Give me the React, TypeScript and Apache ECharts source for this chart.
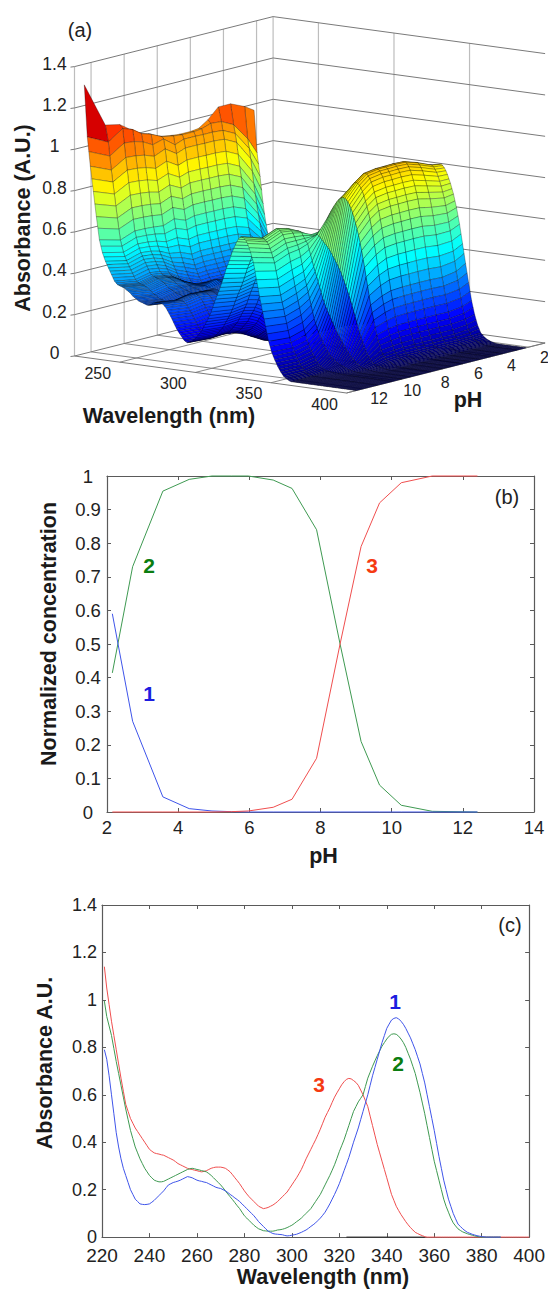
import React, { useEffect, useRef } from "react";
import * as echarts from "echarts";

// ---------- data ----------
const phKnots = [2.15, 2.72, 3.57, 4.31, 4.95, 5.5, 5.97, 6.67, 7.2, 7.89, 8.55, 9.14, 9.66, 10.27, 11.14, 12.41];
const conc1 = [0.59, 0.27, 0.045, 0.01, 0.003, 0.001, 0, 0, 0, 0, 0, 0, 0, 0, 0, 0];
const conc2 = [0.414, 0.73, 0.955, 0.99, 1, 1, 1, 0.988, 0.963, 0.84, 0.5, 0.21, 0.08, 0.02, 0.002, 0];
const conc3 = [0, 0, 0, 0, 0, 0.001, 0.003, 0.014, 0.038, 0.16, 0.5, 0.79, 0.92, 0.98, 1, 1];

const wavelengths = Array.from({ length: 180 }, (_, i) => 221 + i);
const spectrum1 = [
  0.79, 0.75, 0.68, 0.6, 0.52, 0.44, 0.38, 0.33, 0.29, 0.26,
  0.23, 0.2, 0.18, 0.16, 0.15, 0.14, 0.138, 0.137, 0.138, 0.14,
  0.147, 0.155, 0.165, 0.175, 0.185, 0.195, 0.208, 0.22, 0.225, 0.23,
  0.233, 0.236, 0.24, 0.245, 0.25, 0.255, 0.253, 0.25, 0.245, 0.24,
  0.237, 0.235, 0.232, 0.23, 0.225, 0.22, 0.215, 0.21, 0.207, 0.205,
  0.2, 0.195, 0.188, 0.18, 0.173, 0.165, 0.158, 0.15, 0.14, 0.13,
  0.12, 0.11, 0.1, 0.09, 0.078, 0.065, 0.055, 0.045, 0.035, 0.025,
  0.02, 0.015, 0.013, 0.012, 0.011, 0.01, 0.007, 0.005, 0.006, 0.008,
  0.01, 0.012, 0.016, 0.02, 0.025, 0.03, 0.037, 0.045, 0.052, 0.06,
  0.07, 0.08, 0.092, 0.105, 0.122, 0.14, 0.16, 0.18, 0.202, 0.225,
  0.252, 0.28, 0.307, 0.335, 0.367, 0.4, 0.43, 0.46, 0.495, 0.53,
  0.565, 0.6, 0.64, 0.68, 0.715, 0.75, 0.785, 0.82, 0.85, 0.88,
  0.898, 0.915, 0.922, 0.925, 0.92, 0.91, 0.897, 0.88, 0.86, 0.84,
  0.815, 0.79, 0.76, 0.73, 0.69, 0.65, 0.6, 0.55, 0.5, 0.45,
  0.395, 0.34, 0.29, 0.24, 0.2, 0.16, 0.13, 0.1, 0.077, 0.055,
  0.045, 0.035, 0.027, 0.02, 0.016, 0.012, 0.009, 0.006, 0.004, 0.002,
  0.001, 0, 0, 0, 0, 0, 0, 0, 0, 0,
  0, 0, 0, 0, 0, 0, 0, 0, 0, 0,
];
const spectrum2 = [
  0.995, 0.93, 0.89, 0.85, 0.795, 0.74, 0.69, 0.64, 0.59, 0.54,
  0.495, 0.45, 0.415, 0.38, 0.355, 0.33, 0.31, 0.29, 0.275, 0.26,
  0.25, 0.24, 0.236, 0.233, 0.233, 0.235, 0.24, 0.245, 0.25, 0.255,
  0.26, 0.265, 0.27, 0.275, 0.28, 0.285, 0.288, 0.29, 0.288, 0.285,
  0.283, 0.28, 0.278, 0.275, 0.268, 0.26, 0.25, 0.24, 0.23, 0.22,
  0.208, 0.195, 0.182, 0.17, 0.158, 0.145, 0.132, 0.12, 0.105, 0.09,
  0.08, 0.07, 0.06, 0.05, 0.042, 0.035, 0.031, 0.027, 0.026, 0.025,
  0.025, 0.025, 0.027, 0.03, 0.031, 0.033, 0.036, 0.04, 0.045, 0.05,
  0.057, 0.065, 0.072, 0.08, 0.09, 0.1, 0.11, 0.12, 0.135, 0.15,
  0.165, 0.18, 0.2, 0.22, 0.24, 0.26, 0.282, 0.305, 0.332, 0.36,
  0.385, 0.41, 0.44, 0.47, 0.5, 0.53, 0.55, 0.57, 0.585, 0.6,
  0.635, 0.67, 0.695, 0.72, 0.743, 0.765, 0.785, 0.805, 0.82, 0.835,
  0.847, 0.855, 0.857, 0.855, 0.847, 0.835, 0.82, 0.8, 0.775, 0.75,
  0.72, 0.69, 0.65, 0.61, 0.565, 0.52, 0.47, 0.42, 0.37, 0.32,
  0.28, 0.24, 0.2, 0.16, 0.13, 0.105, 0.08, 0.06, 0.047, 0.035,
  0.028, 0.022, 0.018, 0.014, 0.011, 0.008, 0.005, 0.003, 0.001, 0,
  0, 0, 0, 0, 0, 0, 0, 0, 0, 0,
  0, 0, 0, 0, 0, 0, 0, 0, 0, 0,
];
const spectrum3 = [
  1.14, 1.05, 0.98, 0.91, 0.85, 0.79, 0.73, 0.67, 0.615, 0.56,
  0.53, 0.5, 0.48, 0.46, 0.445, 0.43, 0.415, 0.4, 0.385, 0.37,
  0.362, 0.355, 0.352, 0.35, 0.347, 0.345, 0.34, 0.335, 0.33, 0.325,
  0.318, 0.31, 0.305, 0.3, 0.295, 0.29, 0.287, 0.285, 0.282, 0.28,
  0.277, 0.275, 0.277, 0.28, 0.285, 0.29, 0.293, 0.295, 0.295, 0.295,
  0.293, 0.29, 0.283, 0.275, 0.263, 0.25, 0.238, 0.225, 0.21, 0.195,
  0.182, 0.17, 0.16, 0.15, 0.14, 0.13, 0.125, 0.12, 0.122, 0.125,
  0.13, 0.135, 0.142, 0.15, 0.16, 0.17, 0.18, 0.19, 0.205, 0.22,
  0.235, 0.25, 0.267, 0.285, 0.307, 0.33, 0.35, 0.37, 0.39, 0.41,
  0.432, 0.455, 0.48, 0.505, 0.525, 0.545, 0.568, 0.59, 0.608, 0.625,
  0.642, 0.655, 0.665, 0.669, 0.667, 0.66, 0.652, 0.64, 0.62, 0.6,
  0.575, 0.55, 0.51, 0.47, 0.43, 0.39, 0.355, 0.32, 0.285, 0.25,
  0.215, 0.18, 0.155, 0.13, 0.112, 0.095, 0.08, 0.065, 0.052, 0.04,
  0.03, 0.02, 0.015, 0.01, 0.006, 0.002, 0, 0, 0, 0,
  0, 0, 0, 0, 0, 0, 0, 0, 0, 0,
  0, 0, 0, 0, 0, 0, 0, 0, 0, 0,
  0, 0, 0, 0, 0, 0, 0, 0, 0, 0,
  0, 0, 0, 0, 0, 0, 0, 0, 0, 0,
];
// top edge of the surface in panel (a), at 220 nm, one value per pH knot
const surfaceEdge220 = [0.97, 1.0, 1.03, 1.03, 0.98, 0.95, 0.945, 0.945, 0.95, 0.96, 0.985, 1.0, 1.03, 1.065, 1.08, 1.3];
// height of each pH row of the surface relative to its mixture of pure spectra
const surfaceRowGain = [0.925, 0.96, 1.01, 1.035, 1.035, 1.035, 1.035, 1.035, 1.015, 1.05, 1.0, 1.0, 1.0, 1.0, 0.95, 1.0];

const zTicks = [0, 0.2, 0.4, 0.6, 0.8, 1, 1.2, 1.4];
const waveTicks3d = [250, 300, 350, 400];
const phTicks3d = [2, 4, 6, 8, 10, 12];
const FONT = "Liberation Sans, Arial, sans-serif";

// ---------- orthographic view of panel (a) ----------
const WMIN = 220, WMAX = 400, PMIN = 1, PMAX = 13, ZMAX = 1.4;
function project(w: number, ph: number, z: number): [number, number] {
  const a = (w - WMIN) / (WMAX - WMIN);
  const b = (PMAX - ph) / (PMAX - PMIN);
  return [74.5 + a * 272 + b * 198.6, 356 + a * 37 - b * 50 - (z / ZMAX) * 289.4];
}
function jet(t: number): string {
  const v = Math.max(0, Math.min(1, t));
  const ch = (c: number) => Math.round(255 * Math.max(0, Math.min(1, 1.5 - Math.abs(4 * v - c))));
  return `rgb(${ch(3)},${ch(2)},${ch(1)})`;
}

// surface heights: concentration profile x pure spectrum; its first column is the 220 nm edge
const surfaceWaves = [WMIN, ...wavelengths.slice(1)];
const surfaceZ: number[][] = phKnots.map((_, p) =>
  surfaceWaves.map((_, k) =>
    k === 0
      ? surfaceEdge220[p]
      : Math.min(
          surfaceEdge220[p],
          surfaceRowGain[p] * (conc1[p] * spectrum1[k] + conc2[p] * spectrum2[k] + conc3[p] * spectrum3[k])
        )
  )
);
const surfaceCells: number[][] = [];
for (let k = 0; k < surfaceWaves.length - 1; k++) {
  for (let p = 0; p < phKnots.length - 1; p++) surfaceCells.push([k, p]);
}

function renderSurface(_: any, api: any) {
  const k = api.value(0), p = api.value(1);
  const corners: [number, number][] = [[k, p], [k + 1, p], [k + 1, p + 1], [k, p + 1]];
  const points = corners.map(([a, b]) => api.coord(project(surfaceWaves[a], phKnots[b], surfaceZ[b][a])));
  const faceZ = (surfaceZ[p][k] + surfaceZ[p + 1][k]) / 2;
  return {
    type: "polygon",
    shape: { points },
    style: { fill: jet(faceZ / 1.3), stroke: "rgba(0,0,0,0.55)", lineWidth: 0.5 },
  };
}

function renderBox(_: any, api: any) {
  const children: any[] = [];
  const seg = (pts: [number, number, number][], stroke: string, lineWidth = 1) =>
    children.push({
      type: "polyline",
      shape: { points: pts.map((q) => api.coord(project(q[0], q[1], q[2]))) },
      style: { fill: "none", stroke, lineWidth },
    });
  const txt = (text: string, x: number, y: number, size: number) => {
    const c = api.coord([x, y]);
    children.push({
      type: "text",
      style: { text, x: c[0], y: c[1], fontSize: size, fontFamily: FONT, fill: "#222", textAlign: "center", textVerticalAlign: "middle", verticalAlign: "middle" },
    });
  };
  const GRID = "#7a7a7a", VERT = "#bdbdbd";
  phTicks3d.forEach((ph) => seg([[WMIN, ph, 0], [WMIN, ph, ZMAX]], VERT, 1.2));
  waveTicks3d.slice(0, 3).forEach((w) => seg([[w, PMIN, 0], [w, PMIN, ZMAX]], VERT, 1.2));
  seg([[WMIN, PMIN, 0], [WMIN, PMIN, ZMAX]], VERT, 1.2);
  seg([[WMIN, PMAX, 0], [WMIN, PMAX, ZMAX]], VERT, 1.2);
  zTicks.forEach((z) => seg([[WMIN, PMAX, z], [WMIN, PMIN, z], [WMAX, PMIN, z]], GRID, 1));
  waveTicks3d.forEach((w) => seg([[w, PMAX, 0], [w, PMIN, 0]], GRID, 0.9));
  phTicks3d.forEach((ph) => seg([[WMIN, ph, 0], [WMAX, ph, 0]], GRID, 0.9));
  seg([[WMIN, PMAX, 0], [WMAX, PMAX, 0], [WMAX, PMIN, 0]], GRID, 1);
  zTicks.forEach((z) => {
    const q = project(WMIN, PMAX, z);
    const a = api.coord(q), b = api.coord([q[0] - 4, q[1] + 0.5]);
    children.push({
      type: "line",
      shape: { x1: a[0], y1: a[1], x2: b[0], y2: b[1] },
      style: { stroke: GRID, lineWidth: 1 },
    });
    txt(String(z), 54.5, q[1] - 3, 17.5);
  });
  waveTicks3d.forEach((w) => {
    const q = project(w, PMAX, 0);
    txt(String(w), q[0] - 22, q[1] + 11, 16);
  });
  phTicks3d.forEach((ph) => {
    const q = project(WMAX, ph, 0);
    txt(String(ph), q[0] + 16, q[1] + 10, 16);
  });
  return { type: "group", children };
}

const zip = (xs: number[], ys: number[]) => xs.map((x, i) => [x, ys[i]]);
const upTo = (pts: number[][], limit: number) => pts.filter((q) => q[0] <= limit);

const FRAME = "#5a5a5a";
function boxAxis(gridIndex: number, extra: any, min: number, max: number, interval: number, label: any, other = false) {
  return {
    type: "value",
    gridIndex,
    min,
    max,
    interval,
    splitLine: { show: false },
    axisLine: { show: true, onZero: false, lineStyle: { color: FRAME, width: 1.2 } },
    axisTick: { show: true, inside: true, length: 4, lineStyle: { color: FRAME, width: 1 } },
    axisLabel: other ? { show: false } : { fontSize: 18.5, color: "#222", fontFamily: FONT, hideOverlap: false, ...label },
    ...extra,
  };
}
const titleStyle = (padding: number[]) => ({ fontSize: 21.5, fontWeight: "bold", color: "#1a1a1a", fontFamily: FONT, padding });

function note(text: string, x: number, y: number, size: number, fill = "#222", bold = false, rotation = 0) {
  return {
    type: "text",
    x,
    y,
    rotation,
    style: { text, x: 0, y: 0, fontSize: size, fontFamily: FONT, fontWeight: bold ? "bold" : "normal", fill, textAlign: "center", textVerticalAlign: "middle", verticalAlign: "middle" },
  };
}

const BLUE = "#3f55ea", GREEN = "#3f9a52", RED = "#f04f4f";
const LBLUE = "#1c1ce0", LGREEN = "#0b7d10", LRED = "#f53a12";
const line = (name: string, xAxisIndex: number, yAxisIndex: number, data: number[][], color: string) => ({
  type: "line",
  name,
  xAxisIndex,
  yAxisIndex,
  data,
  showSymbol: false,
  symbol: "none",
  clip: false,
  lineStyle: { color, width: 1 },
});

export default function App() {
  const ref = useRef<HTMLDivElement>(null);
  useEffect(() => {
    document.body.style.margin = "0";
    const chart = echarts.init(ref.current!, undefined, { renderer: "svg" });
    chart.setOption({
      animation: false,
      backgroundColor: "#fff",
      textStyle: { fontFamily: FONT },
      grid: [
        { left: 0, top: 0, width: 548, height: 440 },
        { left: 107, top: 476, width: 427, height: 336 },
        { left: 102, top: 905, width: 432, height: 334 },
      ],
      xAxis: [
        { type: "value", gridIndex: 0, min: 0, max: 548, show: false },
        boxAxis(1, { name: "pH", nameLocation: "middle", nameGap: 33, nameTextStyle: titleStyle([0, 0, 0, 6]) }, 2, 14, 2, { margin: 6 }),
        boxAxis(1, { position: "top" }, 2, 14, 2, {}, true),
        boxAxis(2, { name: "Wavelength (nm)", nameLocation: "middle", nameGap: 28, nameTextStyle: titleStyle([0, 0, 0, 15]) }, 220, 400, 20, { margin: 9, fontSize: 19 }),
        boxAxis(2, { position: "top" }, 220, 400, 20, {}, true),
      ],
      yAxis: [
        { type: "value", gridIndex: 0, min: 0, max: 440, inverse: true, show: false },
        boxAxis(1, {}, 0, 1, 0.1, { align: "center", margin: 19 }),
        boxAxis(1, { position: "right" }, 0, 1, 0.1, {}, true),
        boxAxis(2, {}, 0, 1.4, 0.2, { margin: 5, fontSize: 18 }),
        boxAxis(2, { position: "right" }, 0, 1.4, 0.2, {}, true),
      ],
      series: [
        { type: "custom", xAxisIndex: 0, yAxisIndex: 0, data: [[0]], renderItem: renderBox, clip: false, silent: true, z: 1 },
        { type: "custom", xAxisIndex: 0, yAxisIndex: 0, data: surfaceCells, renderItem: renderSurface, clip: false, silent: true, z: 2 },
        line("2", 1, 1, zip(phKnots, conc2), GREEN),
        line("1", 1, 1, zip(phKnots, conc1), BLUE),
        line("3", 1, 1, zip(phKnots, conc3), RED),
        line("baseline", 3, 3, [[323, 0], [356, 0]], "#222"),
        line("3", 3, 3, zip(wavelengths, spectrum3), RED),
        line("2", 3, 3, upTo(zip(wavelengths, spectrum2), 388), GREEN),
        line("1", 3, 3, upTo(zip(wavelengths, spectrum1), 388), BLUE),
      ],
      graphic: [
        note("(a)", 80, 30, 20),
        note("Absorbance (A.U.)", 23, 218, 21.5, "#1a1a1a", true, Math.PI / 2),
        note("Wavelength (nm)", 169, 416, 21.5, "#1a1a1a", true),
        note("pH", 468, 400, 21.5, "#1a1a1a", true),
        note("Normalized concentration", 49, 634, 21.5, "#1a1a1a", true, Math.PI / 2),
        note("(b)", 507, 497, 20),
        note("2", 149, 565, 21, LGREEN, true),
        note("3", 372, 565, 21, LRED, true),
        note("1", 149, 693, 21, LBLUE, true),
        note("Absorbance A.U.", 45, 1063, 21.5, "#1a1a1a", true, Math.PI / 2),
        note("(c)", 510, 925, 20),
        note("1", 395, 1001, 21, LBLUE, true),
        note("2", 398, 1063, 21, LGREEN, true),
        note("3", 319, 1084, 21, LRED, true),
      ],
    });
    return () => chart.dispose();
  }, []);
  return <div ref={ref} style={{ width: 548, height: 1289 }} />;
}
